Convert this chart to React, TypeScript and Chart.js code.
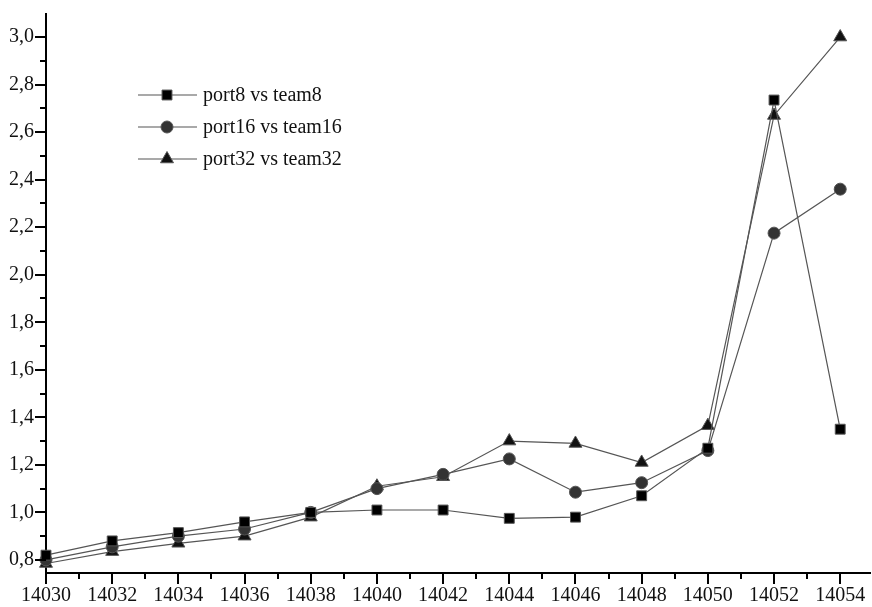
import React, { useEffect, useRef } from "react";
import { Chart, registerables } from "chart.js";
Chart.register(...registerables);

const xValues = [14030, 14032, 14034, 14036, 14038, 14040, 14042, 14044, 14046, 14048, 14050, 14052, 14054];
const port8 = [0.82, 0.88, 0.915, 0.96, 1.0, 1.01, 1.01, 0.975, 0.98, 1.07, 1.27, 2.735, 1.35];
const port16 = [0.8, 0.855, 0.9, 0.93, 1.0, 1.1, 1.16, 1.225, 1.085, 1.125, 1.26, 2.175, 2.36];
const port32 = [0.785, 0.835, 0.87, 0.9, 0.98, 1.11, 1.15, 1.3, 1.29, 1.21, 1.365, 2.67, 3.0];
const seriesNames = ["port8 vs team8", "port16 vs team16", "port32 vs team32"];
const xMajorTicks = [14030, 14032, 14034, 14036, 14038, 14040, 14042, 14044, 14046, 14048, 14050, 14052, 14054];
const yMajorTicks = [0.8, 1.0, 1.2, 1.4, 1.6, 1.8, 2.0, 2.2, 2.4, 2.6, 2.8, 3.0];
const xMin = 14030;
const xMax = 14054.9;
const yMin = 0.745;
const yMax = 3.097;

const FONT = "'Liberation Serif', 'Times New Roman', serif";

const styles = [
  { pointStyle: "rect", color: "#000000", radius: 7 },
  { pointStyle: "circle", color: "#333333", radius: 6 },
  { pointStyle: "triangle", color: "#111111", radius: 7.5 },
];

const tickPlugin = {
  id: "customTicks",
  afterDraw(chart: any) {
    const ctx = chart.ctx;
    const xs = chart.scales.x;
    const ys = chart.scales.y;
    const area = chart.chartArea;
    ctx.save();
    ctx.strokeStyle = "#000";
    ctx.lineWidth = 2;
    for (let v = Math.ceil(xs.min); v <= xs.max; v++) {
      const px = Math.round(xs.getPixelForValue(v));
      const major = (v - xMin) % 2 === 0;
      const len = major ? 11 : 6;
      ctx.beginPath();
      ctx.moveTo(px, area.bottom);
      ctx.lineTo(px, area.bottom + len);
      ctx.stroke();
    }
    for (let i = 0; ; i++) {
      const v = 0.8 + i * 0.1;
      if (v > ys.max + 1e-9) break;
      const py = Math.round(ys.getPixelForValue(v));
      const major = i % 2 === 0;
      const len = major ? 11 : 6;
      ctx.beginPath();
      ctx.moveTo(area.left, py);
      ctx.lineTo(area.left - len, py);
      ctx.stroke();
    }
    ctx.restore();
  },
};

function drawMarker(ctx: CanvasRenderingContext2D, style: string, r: number, x: number, y: number) {
  ctx.beginPath();
  if (style === "rect") {
    const s = Math.SQRT1_2 * r;
    ctx.rect(x - s, y - s, 2 * s, 2 * s);
  } else if (style === "circle") {
    ctx.arc(x, y, r, 0, Math.PI * 2);
  } else {
    const rad = -Math.PI / 2;
    for (let k = 0; k < 3; k++) {
      const a = rad + (k * 2 * Math.PI) / 3;
      const px = x + Math.cos(a) * r;
      const py = y + Math.sin(a) * r;
      if (k === 0) ctx.moveTo(px, py);
      else ctx.lineTo(px, py);
    }
    ctx.closePath();
  }
  ctx.fill();
  ctx.stroke();
}

const legendPlugin = {
  id: "insideLegend",
  afterDatasetsDraw(chart: any) {
    const ctx = chart.ctx;
    const area = chart.chartArea;
    const x0 = area.left + 92;
    const x1 = area.left + 151;
    const mx = area.left + 121;
    const tx = area.left + 157;
    ctx.save();
    chart.data.datasets.forEach((ds: any, i: number) => {
      const y = area.top + 81 + i * 32;
      ctx.strokeStyle = "#555";
      ctx.lineWidth = 1.2;
      ctx.beginPath();
      ctx.moveTo(x0, y);
      ctx.lineTo(x1, y);
      ctx.stroke();
      ctx.fillStyle = ds.pointBackgroundColor;
      ctx.strokeStyle = ds.pointBorderColor;
      ctx.lineWidth = 1;
      drawMarker(ctx, ds.pointStyle, ds.pointRadius, mx, y);
      ctx.fillStyle = "#111";
      ctx.font = `20px ${FONT}`;
      ctx.textBaseline = "middle";
      ctx.textAlign = "left";
      ctx.fillText(ds.label, tx, y + 1);
    });
    ctx.restore();
  },
};

export default function App() {
  const ref = useRef<HTMLCanvasElement | null>(null);
  useEffect(() => {
    if (!ref.current) return;
    const all = [port8, port16, port32];
    const chart = new Chart(ref.current, {
      type: "line",
      data: {
        datasets: all.map((arr, i) => ({
          label: seriesNames[i],
          data: arr.map((v, j) => ({ x: xValues[j], y: v })),
          borderColor: "#555555",
          borderWidth: 1.2,
          pointStyle: styles[i].pointStyle as any,
          pointRadius: styles[i].radius,
          pointBackgroundColor: styles[i].color,
          pointBorderColor: "#555555",
          pointBorderWidth: 1,
          tension: 0,
          fill: false,
          clip: false as any,
        })),
      },
      options: {
        animation: false,
        responsive: false,
        maintainAspectRatio: false,
        layout: { autoPadding: false, padding: { top: 14, right: 2, left: 0, bottom: 0 } },
        plugins: { legend: { display: false }, tooltip: { enabled: false } },
        scales: {
          x: {
            type: "linear",
            min: xMin,
            max: xMax,
            grid: { display: false, drawTicks: false },
            border: { display: true, color: "#000", width: 2 },
            afterBuildTicks: (s: any) => {
              s.ticks = xMajorTicks.map((v) => ({ value: v }));
            },
            afterFit: (s: any) => {
              s.height = 34;
              s.paddingLeft = 0;
              s.paddingRight = 0;
            },
            ticks: {
              autoSkip: false,
              maxRotation: 0,
              padding: 11,
              color: "#111",
              font: { family: FONT, size: 20 },
              callback: (v: any) => String(v),
            },
          },
          y: {
            type: "linear",
            min: yMin,
            max: yMax,
            grid: { display: false, drawTicks: false },
            border: { display: true, color: "#000", width: 2 },
            afterBuildTicks: (s: any) => {
              s.ticks = yMajorTicks.map((v) => ({ value: v }));
            },
            afterFit: (s: any) => {
              s.width = 46;
              s.paddingTop = 0;
              s.paddingBottom = 0;
            },
            ticks: {
              autoSkip: false,
              padding: 12,
              color: "#111",
              font: { family: FONT, size: 20 },
              callback: (v: any) => Number(v).toFixed(1).replace(".", ","),
            },
          },
        },
      },
      plugins: [tickPlugin, legendPlugin],
    });
    return () => chart.destroy();
  }, []);
  return (
    <div style={{ position: "fixed", left: 0, top: 0, width: 872, height: 607, background: "#fff" }}>
      <canvas ref={ref} width={872} height={607} style={{ display: "block" }} />
    </div>
  );
}
